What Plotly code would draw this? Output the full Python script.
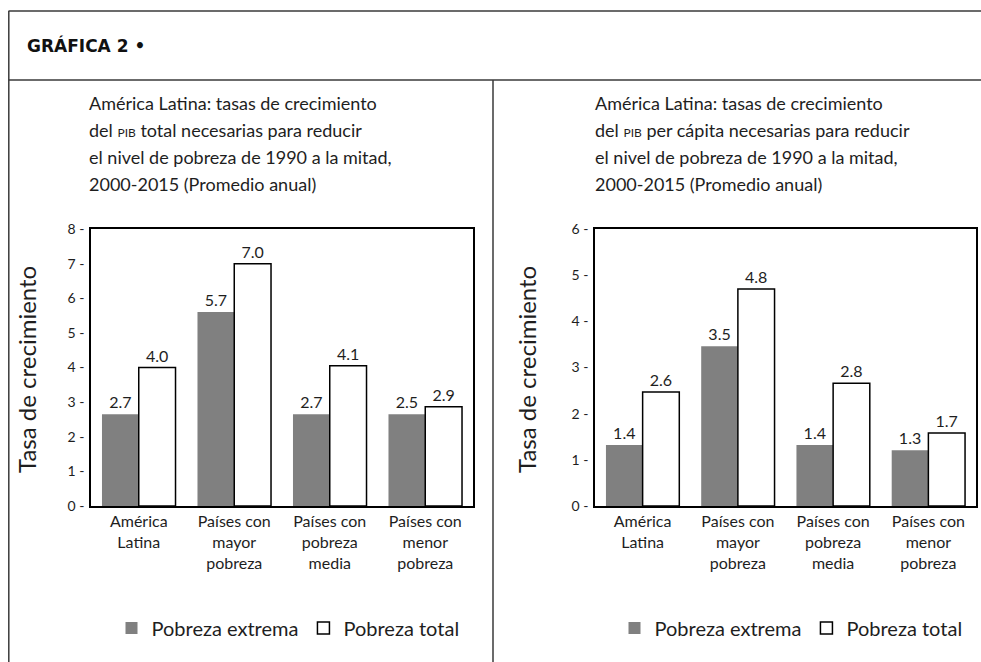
import plotly.graph_objects as go

# ---- data ----
categories = ["América<br>Latina", "Países con<br>mayor<br>pobreza",
              "Países con<br>pobreza<br>media", "Países con<br>menor<br>pobreza"]
series_names = ["Pobreza extrema", "Pobreza total"]

left_extrema = [2.65, 5.6, 2.65, 2.65]
left_total = [4.0, 7.0, 4.05, 2.87]
left_extrema_labels = ["2.7", "5.7", "2.7", "2.5"]
left_total_labels = ["4.0", "7.0", "4.1", "2.9"]

right_extrema = [1.32, 3.46, 1.32, 1.21]
right_total = [2.47, 4.70, 2.66, 1.58]
right_extrema_labels = ["1.4", "3.5", "1.4", "1.3"]
right_total_labels = ["2.6", "4.8", "2.8", "1.7"]

left_ticks = [0, 1, 2, 3, 4, 5, 6, 7, 8]
right_ticks = [0, 1, 2, 3, 4, 5, 6]

header = "<b>GRÁFICA 2 •</b>"
left_title = ["América Latina: tasas de crecimiento",
              "del <span style='font-size:12px'>PIB</span> total necesarias para reducir",
              "el nivel de pobreza de 1990 a la mitad,",
              "2000-2015 (Promedio anual)"]
right_title = ["América Latina: tasas de crecimiento",
               "del <span style='font-size:12px'>PIB</span> per cápita necesarias para reducir",
               "el nivel de pobreza de 1990 a la mitad,",
               "2000-2015 (Promedio anual)"]
y_title = "Tasa de crecimiento"

# ---- styling ----
W, H = 981, 662
FONT = "Lato"
TXT = "#1e1e1e"
GRAY = "#808080"

def px_x(v):
    return v / W

def px_y(v):
    return 1 - v / H

fig = go.Figure()

def add_pair(xa, ya, ext, tot, ext_lab, tot_lab, legend):
    fig.add_trace(go.Bar(
        x=categories, y=ext, name=series_names[0], text=ext_lab,
        textposition="outside", cliponaxis=False, constraintext="none",
        textfont=dict(size=16, color=TXT, family=FONT),
        marker=dict(color=GRAY, line=dict(width=0)),
        xaxis=xa, yaxis=ya, legend=legend, hoverinfo="skip"))
    fig.add_trace(go.Bar(
        x=categories, y=tot, name=series_names[1], text=tot_lab,
        textposition="outside", cliponaxis=False, constraintext="none",
        textfont=dict(size=16, color=TXT, family=FONT),
        marker=dict(color="white", line=dict(width=1.5, color="black")),
        xaxis=xa, yaxis=ya, legend=legend, hoverinfo="skip"))

add_pair("x", "y", left_extrema, left_total, left_extrema_labels, left_total_labels, "legend")
add_pair("x2", "y2", right_extrema, right_total, right_extrema_labels, right_total_labels, "legend2")

ydom = [px_y(506), px_y(229)]
axis_common = dict(showline=True, linecolor="black", linewidth=1.5, mirror=True,
                   showgrid=False, zeroline=False, ticks="")

fig.update_layout(
    width=W, height=H,
    margin=dict(l=0, r=0, t=0, b=0, autoexpand=False),
    paper_bgcolor="white", plot_bgcolor="white",
    font=dict(family=FONT, color=TXT),
    barmode="group", bargap=0.23, bargroupgap=0,
    xaxis=dict(domain=[px_x(91), px_x(473)], anchor="y", range=[-0.5, 3.5],
               tickfont=dict(size=16, color=TXT, family=FONT), **axis_common),
    yaxis=dict(domain=ydom, anchor="x", range=[0, 8],
               tickvals=left_ticks, ticktext=[f"{t} -" for t in left_ticks],
               ticklabelstandoff=2, tickfont=dict(size=14, color=TXT, family=FONT), **axis_common),
    xaxis2=dict(domain=[px_x(595), px_x(976)], anchor="y2", range=[-0.5, 3.5],
                tickfont=dict(size=16, color=TXT, family=FONT), **axis_common),
    yaxis2=dict(domain=ydom, anchor="x2", range=[0, 6],
                tickvals=right_ticks, ticktext=[f"{t} -" for t in right_ticks],
                ticklabelstandoff=2, tickfont=dict(size=14, color=TXT, family=FONT), **axis_common),
    legend=dict(orientation="h", x=px_x(288), xanchor="center", y=px_y(628), yanchor="middle",
                font=dict(size=20, color=TXT, family=FONT), bgcolor="rgba(0,0,0,0)"),
    legend2=dict(orientation="h", x=px_x(791), xanchor="center", y=px_y(628), yanchor="middle",
                 font=dict(size=20, color=TXT, family=FONT), bgcolor="rgba(0,0,0,0)"),
)

# frame lines
line_style = dict(color="#3a3a3a", width=1.5)
fig.add_shape(type="line", xref="paper", yref="paper", x0=px_x(8.5), x1=1, y0=px_y(11), y1=px_y(11), line=line_style)
fig.add_shape(type="line", xref="paper", yref="paper", x0=px_x(8.5), x1=1, y0=px_y(80), y1=px_y(80), line=line_style)
fig.add_shape(type="line", xref="paper", yref="paper", x0=px_x(8.8), x1=px_x(8.8), y0=px_y(11), y1=0, line=line_style)
fig.add_shape(type="line", xref="paper", yref="paper", x0=px_x(493), x1=px_x(493), y0=px_y(80), y1=0, line=line_style)

# header
fig.add_annotation(text=header, xref="paper", yref="paper", x=px_x(25), y=px_y(46),
                   xanchor="left", yanchor="middle", showarrow=False,
                   font=dict(size=17, color="#111", family="DejaVu Sans"))

# titles
line_y = [103, 130, 157, 184]
for lines, x0 in ((left_title, 87), (right_title, 593)):
    for txt, yy in zip(lines, line_y):
        fig.add_annotation(text=txt, xref="paper", yref="paper", x=px_x(x0), y=px_y(yy),
                           xanchor="left", yanchor="middle", showarrow=False,
                           font=dict(size=18, color=TXT, family=FONT))

# y titles
for xx in (26, 526):
    fig.add_annotation(text=y_title, xref="paper", yref="paper", x=px_x(xx), y=px_y(370),
                       xanchor="center", yanchor="middle", textangle=-90, showarrow=False,
                       font=dict(size=24, color=TXT, family=FONT))

fig.write_html("out.html", config={"displayModeBar": False},
               post_script="document.body.style.margin='0';document.body.style.overflow='hidden';")
